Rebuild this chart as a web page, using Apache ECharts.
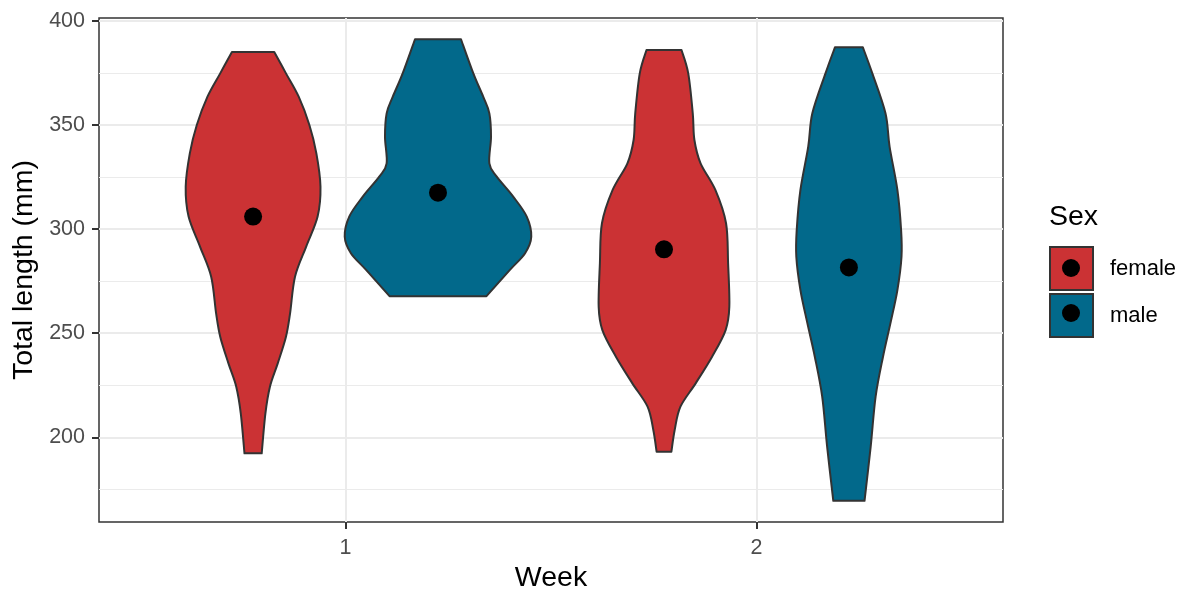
<!DOCTYPE html>
<html>
<head>
<meta charset="utf-8">
<script src="https://cdn.jsdelivr.net/npm/echarts@6/dist/echarts.min.js"></script>
<style>html,body{margin:0;padding:0;background:#fff;}#c{width:1186px;height:589px;}</style>
</head>
<body>
<div id="c"></div>
<script>
// ---- data ----
var weeks = [1, 2];
var sexes = ['female', 'male'];
var yTicks = [200, 250, 300, 350, 400];
var yMinorTicks = [175, 225, 275, 325, 375];
var xTicks = [1, 2];
// mean total length per week
var meanFemale = [306.0, 290.3];
var meanMale = [317.5, 281.6];
// violin profiles: length values (mm) and half-widths (in week units)
var femaleW1Len = [385.1, 374.8, 363.6, 350.0, 336.4, 320.4, 306.0, 291.5, 277.1, 259.5, 248.3, 235.5, 224.3, 211.5, 192.3];
var femaleW1Wid = [0.0515, 0.080, 0.111, 0.137, 0.154, 0.164, 0.157, 0.129, 0.102, 0.090, 0.080, 0.060, 0.041, 0.030, 0.021];
var maleW1Len = [391.2, 374.8, 363.6, 355.6, 344.4, 331.6, 325.2, 315.6, 306.0, 296.3, 288.4, 280.4, 267.8];
var maleW1Wid = [0.056, 0.086, 0.110, 0.125, 0.129, 0.125, 0.143, 0.183, 0.216, 0.227, 0.212, 0.175, 0.118];
var femaleW2Len = [386.0, 374.8, 355.6, 342.8, 331.6, 318.8, 302.8, 283.6, 262.7, 251.5, 238.7, 225.9, 214.7, 203.5, 193.1];
var femaleW2Wid = [0.0426, 0.059, 0.070, 0.074, 0.089, 0.125, 0.151, 0.156, 0.159, 0.150, 0.117, 0.077, 0.040, 0.026, 0.018];
var maleW2Len = [387.3, 374.8, 355.6, 339.6, 318.8, 299.6, 286.7, 270.7, 254.7, 238.7, 219.5, 195.5, 169.5];
var maleW2Wid = [0.034, 0.057, 0.089, 0.099, 0.118, 0.127, 0.128, 0.118, 0.101, 0.083, 0.065, 0.053, 0.038];

var profiles = {
  female: [[femaleW1Len, femaleW1Wid], [femaleW2Len, femaleW2Wid]],
  male: [[maleW1Len, maleW1Wid], [maleW2Len, maleW2Wid]]
};
var colors = { female: '#CB3234', male: '#02698B' };
var dodge = { female: -0.225, male: 0.225 };

function crPath(pts) {
  var s = '';
  for (var i = 0; i < pts.length - 1; i++) {
    var p0 = pts[Math.max(i - 1, 0)], p1 = pts[i], p2 = pts[i + 1], p3 = pts[Math.min(i + 2, pts.length - 1)];
    var c1 = [p1[0] + (p2[0] - p0[0]) / 6, p1[1] + (p2[1] - p0[1]) / 6];
    var c2 = [p2[0] - (p3[0] - p1[0]) / 6, p2[1] - (p3[1] - p1[1]) / 6];
    s += ' C' + c1[0] + ' ' + c1[1] + ' ' + c2[0] + ' ' + c2[1] + ' ' + p2[0] + ' ' + p2[1];
  }
  return s;
}

function makeRender(sex) {
  return function (params, api) {
    var idx = params.dataIndex;
    var cx = api.value(0);
    var prof = profiles[sex][idx];
    var lens = prof[0], wids = prof[1];
    var left = [], right = [];
    for (var i = 0; i < lens.length; i++) {
      left.push(api.coord([cx - wids[i], lens[i]]));
      right.push(api.coord([cx + wids[i], lens[i]]));
    }
    right.reverse();
    var d = 'M' + left[0][0] + ' ' + left[0][1] + crPath(left) +
      ' L' + right[0][0] + ' ' + right[0][1] + crPath(right) + ' Z';
    return {
      type: 'path',
      shape: { pathData: d },
      style: { fill: colors[sex], stroke: '#333333', lineWidth: 2, lineJoin: 'round' }
    };
  };
}

var violinSeries = sexes.map(function (sex) {
  return {
    name: sex,
    type: 'custom',
    renderItem: makeRender(sex),
    itemStyle: { color: colors[sex] },
    encode: { x: 0, y: 1 },
    data: weeks.map(function (w, i) { return [w + dodge[sex], profiles[sex][i][0][0]]; }),
    z: 2
  };
});

var meanData = [];
weeks.forEach(function (w, i) {
  meanData.push([w + dodge.female, meanFemale[i]]);
  meanData.push([w + dodge.male, meanMale[i]]);
});

var FONT = 'Liberation Sans, Arial, sans-serif';
var chart = echarts.init(document.getElementById('c'), null, { renderer: 'canvas' });
chart.setOption({
  animation: false,
  backgroundColor: '#ffffff',
  grid: { left: 99, right: 183, top: 18, bottom: 67, show: true, borderColor: '#333333', borderWidth: 1.5, backgroundColor: 'transparent', containLabel: false, outerBoundsMode: 'none' },
  xAxis: {
    type: 'value', min: 0.4, max: 2.6,
    name: 'Week', nameLocation: 'middle', nameGap: 38,
    nameTextStyle: { fontSize: 28.5, color: '#000', fontFamily: FONT },
    axisLine: { show: false },
    axisTick: { show: true, customValues: xTicks, length: 7, lineStyle: { color: '#333333', width: 2 } },
    axisLabel: { customValues: xTicks, fontSize: 21.5, color: '#4D4D4D', margin: 15, fontFamily: FONT },
    splitLine: { show: true, lineStyle: { color: '#EBEBEB', width: 2 } }
  },
  yAxis: [{
    type: 'value', min: 159.3, max: 401.4,
    name: 'Total length (mm)', nameLocation: 'middle', nameGap: 58, nameRotate: 90,
    nameTextStyle: { fontSize: 28.5, color: '#000', fontFamily: FONT },
    axisLine: { show: false },
    axisTick: { show: true, customValues: yTicks, length: 7, lineStyle: { color: '#333333', width: 2 } },
    axisLabel: { customValues: yTicks, fontSize: 21.5, color: '#4D4D4D', margin: 14, fontFamily: FONT },
    splitLine: { show: true, lineStyle: { color: '#EBEBEB', width: 2 } }
  }, {
    type: 'value', min: 159.3, max: 401.4, position: 'left',
    axisLine: { show: false },
    axisTick: { show: false, customValues: yMinorTicks },
    axisLabel: { show: false, customValues: yMinorTicks },
    splitLine: { show: true, lineStyle: { color: '#EBEBEB', width: 1 } }
  }],
  legend: [{
    orient: 'vertical', left: 1049, top: 246, padding: 0,
    itemWidth: 43, itemHeight: 43, itemGap: 2,
    selectedMode: false,
    icon: 'rect',
    textStyle: { fontSize: 22, color: '#000', fontFamily: FONT, padding: [0, 0, 0, 12] },
    data: sexes.map(function (s) {
      return { name: s, icon: 'rect', itemStyle: { color: colors[s], borderColor: '#333333', borderWidth: 2 } };
    })
  }, {
    orient: 'vertical', left: 1062, top: 259, padding: 0,
    itemWidth: 18, itemHeight: 18, itemGap: 27,
    selectedMode: false,
    formatter: function () { return ''; },
    textStyle: { fontSize: 1 },
    data: sexes.map(function (s) {
      return { name: s, icon: 'circle', itemStyle: { color: '#000000', borderWidth: 0, opacity: 1 } };
    })
  }],
  graphic: [{
    type: 'text', left: 1049, top: 203,
    style: { text: 'Sex', fontSize: 28.5, fill: '#000', fontFamily: FONT }
  }],
  series: violinSeries.concat([{
    name: 'mean',
    type: 'scatter',
    symbol: 'circle',
    symbolSize: 18,
    itemStyle: { color: '#000000', opacity: 1 },
    data: meanData,
    z: 5
  }])
});
</script>
</body>
</html>
